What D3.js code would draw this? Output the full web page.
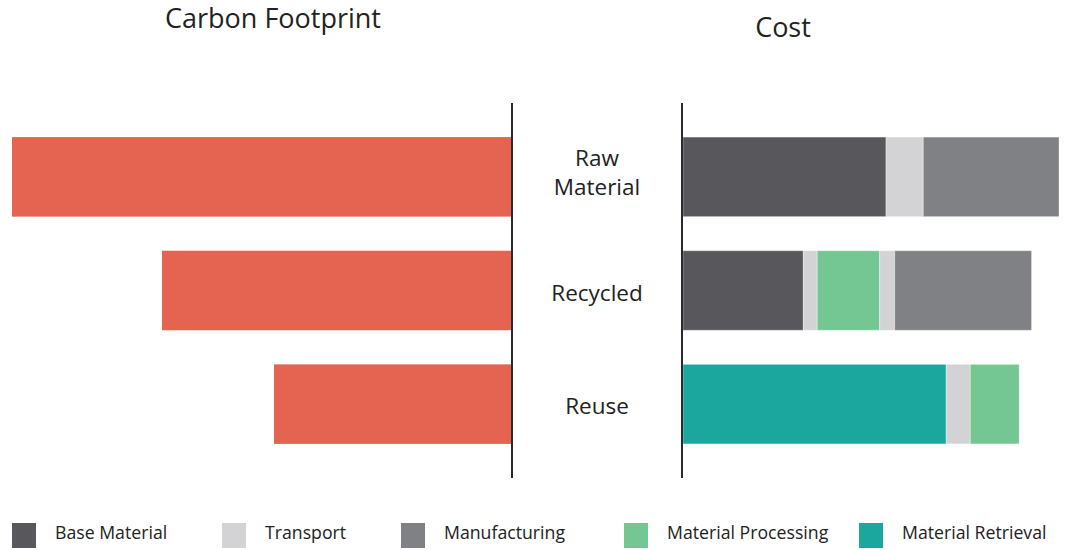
<!DOCTYPE html>
<html>
<head>
<meta charset="utf-8">
<script src="https://cdn.jsdelivr.net/npm/d3@7"></script>
<style>
  body { margin: 0; background: #fff; }
  svg text { font-family: "Open Sans", "Noto Sans", sans-serif; fill: #222; }
</style>
</head>
<body>
<div id="chart"></div>
<script>
// data
const categories = ['Raw Material', 'Recycled', 'Reuse'];
const carbonValues = [100, 70, 47.6];
const components = ['Base Material', 'Transport', 'Manufacturing', 'Material Processing', 'Material Retrieval'];
const componentColors = ['#58575c', '#d3d3d5', '#808184', '#74c792', '#1ba69e'];
// cost segments per category, in drawing order
const costParts = [
  [['Base Material', 54], ['Transport', 9.9], ['Manufacturing', 36.1]],
  [['Base Material', 32], ['Transport', 3.7], ['Material Processing', 16.6], ['Transport', 4], ['Manufacturing', 36.4]],
  [['Material Retrieval', 70], ['Transport', 6.4], ['Material Processing', 13]],
];

const width = 1082, height = 550;

const svg = d3.select('#chart')
  .append('svg')
  .attr('width', width)
  .attr('height', height);

const y = d3.scaleBand()
  .domain(categories)
  .range([103, 478])
  .paddingInner(0.3)
  .paddingOuter(0.3);

const xCarbon = d3.scaleLinear().domain([0, 100]).range([512, 12]);
const xCost = d3.scaleLinear().domain([0, 100]).range([683, 1059]);
const color = d3.scaleOrdinal().domain(components).range(componentColors);

// carbon footprint bars
svg.append('g')
  .selectAll('rect')
  .data(categories)
  .join('rect')
  .attr('x', (d, i) => xCarbon(carbonValues[i]))
  .attr('y', d => y(d))
  .attr('width', (d, i) => xCarbon(0) - xCarbon(carbonValues[i]))
  .attr('height', y.bandwidth())
  .attr('fill', '#e56451');

// cost stacked bars
const costRows = svg.append('g')
  .selectAll('g')
  .data(categories)
  .join('g')
  .attr('transform', d => 'translate(0,' + y(d) + ')');

costRows.selectAll('rect')
  .data((d, i) => {
    let acc = 0;
    return costParts[i].map(p => {
      const seg = { name: p[0], x0: acc, x1: acc + p[1] };
      acc += p[1];
      return seg;
    });
  })
  .join('rect')
  .attr('x', d => xCost(d.x0))
  .attr('y', 0)
  .attr('width', d => xCost(d.x1) - xCost(d.x0))
  .attr('height', y.bandwidth())
  .attr('fill', d => color(d.name))
  .attr('stroke', 'rgba(255,255,255,0.35)')
  .attr('stroke-width', 1);

// axis lines
[512, 682].forEach(xp => {
  svg.append('line')
    .attr('x1', xp).attr('x2', xp)
    .attr('y1', y.range()[0]).attr('y2', y.range()[1])
    .attr('stroke', '#2b2b2b')
    .attr('stroke-width', 2);
});

// category labels
const labelLines = {
  'Raw Material': ['Raw', 'Material'],
  'Recycled': ['Recycled'],
  'Reuse': ['Reuse'],
};
categories.forEach(c => {
  const lines = labelLines[c];
  const cy = y(c) + y.bandwidth() / 2;
  const lh = 29;
  const off = lines.length > 1 ? 4 : 10;
  lines.forEach((l, j) => {
    svg.append('text')
      .attr('x', 597)
      .attr('y', cy + (j - (lines.length - 1) / 2) * lh + off)
      .attr('text-anchor', 'middle')
      .style('font-size', '22.5px')
      .text(l);
  });
});

// titles
svg.append('text')
  .attr('x', 273).attr('y', 28)
  .attr('text-anchor', 'middle')
  .style('font-size', '27px')
  .text('Carbon Footprint');

svg.append('text')
  .attr('x', 783).attr('y', 37)
  .attr('text-anchor', 'middle')
  .style('font-size', '27px')
  .text('Cost');

// legend
const legendX = [12, 222, 401, 624, 859];
const legend = svg.append('g')
  .selectAll('g')
  .data(components)
  .join('g')
  .attr('transform', (d, i) => 'translate(' + legendX[i] + ',523)');

legend.append('rect')
  .attr('width', 24)
  .attr('height', 25)
  .attr('fill', d => color(d));

legend.append('text')
  .attr('x', 43)
  .attr('y', 16)
  .style('font-size', '17.7px')
  .text(d => d);
</script>
</body>
</html>
